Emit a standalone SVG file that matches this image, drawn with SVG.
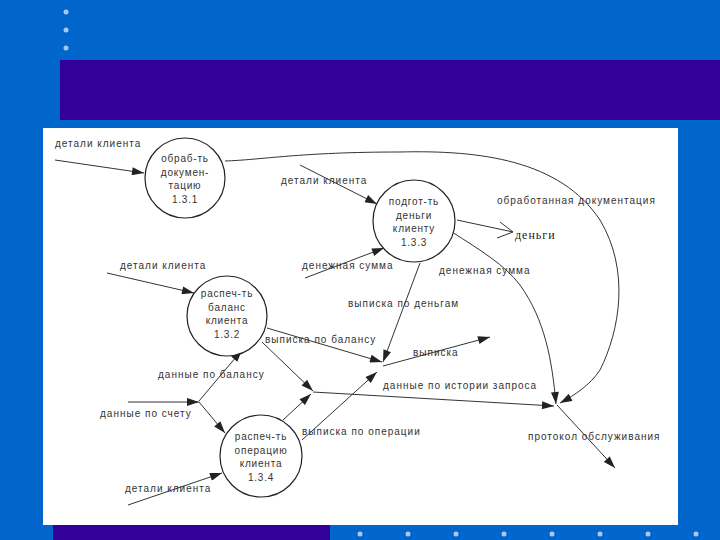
<svg xmlns="http://www.w3.org/2000/svg" width="720" height="540" viewBox="0 0 720 540">
<defs>
<marker id="ah" viewBox="0 0 12 8" refX="12" refY="4" markerWidth="13" markerHeight="8" markerUnits="userSpaceOnUse" orient="auto">
<path d="M0,0 L12,4 L0,8 Z" fill="#222"/>
</marker>
</defs>
<style>
.bg{fill:#0066cc}
.band{fill:#330099}
.dot{fill:#a8c8f0}
.node{fill:#fff;stroke:#222;stroke-width:1.2}
.lbl{font-family:"Liberation Sans",Arial,sans-serif;font-size:10px;letter-spacing:1px;fill:#333}
.nt{font-family:"Liberation Sans",Arial,sans-serif;font-size:10px;letter-spacing:0.8px;fill:#333;text-anchor:middle}
.c{fill:none;stroke:#333;stroke-width:1}
.a{marker-end:url(#ah)}
</style>
<rect class="bg" x="0" y="0" width="720" height="540"/>
<circle class="dot" cx="66" cy="12" r="2.5"/>
<circle class="dot" cx="66" cy="30" r="2.5"/>
<circle class="dot" cx="66" cy="48" r="2.5"/>
<rect class="band" x="60" y="60" width="660" height="60"/>
<rect x="43" y="128" width="635" height="397" fill="#fff"/>
<rect class="band" x="53" y="525" width="277" height="15"/>
<g>
<circle class="dot" cx="360" cy="534" r="2.5"/>
<circle class="dot" cx="408" cy="534" r="2.5"/>
<circle class="dot" cx="456" cy="534" r="2.5"/>
<circle class="dot" cx="504" cy="534" r="2.5"/>
<circle class="dot" cx="552" cy="534" r="2.5"/>
<circle class="dot" cx="600" cy="534" r="2.5"/>
<circle class="dot" cx="648" cy="534" r="2.5"/>
<circle class="dot" cx="696" cy="534" r="2.5"/>
</g>
<g id="connectors">
<path class="c a" d="M55,160 L144,173"/>
<path class="c a" d="M225,161 C260,160 300,152 400,152 C480,150 560,160 600,220 C630,270 620,330 600,370 C590,385 575,395 560,403"/>
<path class="c a" d="M300,165 L377,204"/>
<path class="c a" d="M305,278 L384,248"/>
<path class="c a" d="M420,263 L383,362"/>
<path class="c" d="M457,220 L513,232 M500,222 L513,232 L497,238"/>
<path class="c a" d="M452,232 C480,250 505,265 520,285 C545,320 552,360 556,404"/>
<path class="c a" d="M107,273 L194,293"/>
<path class="c a" d="M267,328 L382,362"/>
<path class="c a" d="M262,342 L313,391"/>
<path class="c a" d="M313,392 L554,406"/>
<path class="c a" d="M283,420 L311,394"/>
<path class="c a" d="M302,440 L377,372"/>
<path class="c a" d="M383,366 L490,337"/>
<path class="c a" d="M199,401 L242,350"/>
<path class="c a" d="M128,402 L199,402"/>
<path class="c a" d="M199,402 L225,433"/>
<path class="c a" d="M128,505 L222,473"/>
<path class="c a" d="M557,405 L615,468"/>
</g>
<g id="labels">
<text class="lbl" x="55" y="147">детали клиента</text>
<text class="lbl" x="281" y="184">детали клиента</text>
<text class="lbl" x="497" y="204">обработанная документация</text>
<text x="515" y="239" font-family="Liberation Serif,serif" font-size="12" letter-spacing="1" fill="#222">деньги</text>
<text class="lbl" x="302" y="269">денежная сумма</text>
<text class="lbl" x="439" y="274">денежная сумма</text>
<text class="lbl" x="120" y="269">детали клиента</text>
<text class="lbl" x="348" y="307">выписка по деньгам</text>
<text class="lbl" x="265" y="343">выписка по балансу</text>
<text class="lbl" x="413" y="356">выписка</text>
<text class="lbl" x="158" y="378">данные по балансу</text>
<text class="lbl" x="383" y="389">данные по истории запроса</text>
<text class="lbl" x="100" y="417">данные по счету</text>
<text class="lbl" x="302" y="435">выписка по операции</text>
<text class="lbl" x="528" y="440">протокол обслуживания</text>
<text class="lbl" x="125" y="492">детали клиента</text>
</g>
<g id="n131">
<circle class="node" cx="185" cy="178" r="40"/>
<text class="nt" x="185" y="162">обраб-ть</text>
<text class="nt" x="185" y="176">докумен-</text>
<text class="nt" x="185" y="189">тацию</text>
<text class="nt" x="185" y="203">1.3.1</text>
</g>
<g id="n133">
<circle class="node" cx="414" cy="221" r="41"/>
<text class="nt" x="414" y="205">подгот-ть</text>
<text class="nt" x="414" y="219">деньги</text>
<text class="nt" x="414" y="232">клиенту</text>
<text class="nt" x="414" y="246">1.3.3</text>
</g>
<g id="n132">
<circle class="node" cx="227" cy="316" r="40"/>
<text class="nt" x="227" y="297">распеч-ть</text>
<text class="nt" x="227" y="311">баланс</text>
<text class="nt" x="227" y="324">клиента</text>
<text class="nt" x="227" y="338">1.3.2</text>
</g>
<g id="n134">
<circle class="node" cx="261" cy="456" r="41"/>
<text class="nt" x="261" y="440">распеч-ть</text>
<text class="nt" x="261" y="454">операцию</text>
<text class="nt" x="261" y="467">клиента</text>
<text class="nt" x="261" y="481">1.3.4</text>
</g>
</svg>
